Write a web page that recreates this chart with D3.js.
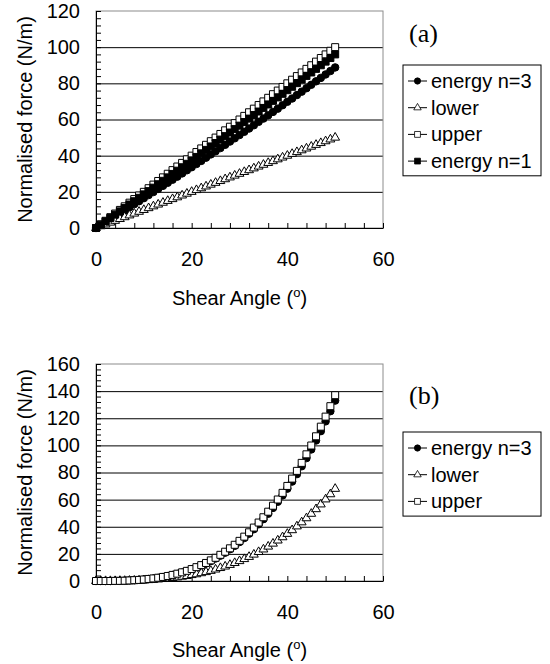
<!DOCTYPE html>
<html>
<head>
<meta charset="utf-8">
<script src="https://cdn.jsdelivr.net/npm/d3@7"></script>
<style>
  body { margin: 0; background: #fff; }
  text { font-family: "Liberation Sans", Arial, sans-serif; fill: #000; }
</style>
</head>
<body>
<script>
// shear angle (degrees), same for every series
var angles = [0,1,2,3,4,5,6,7,8,9,10,11,12,13,14,15,16,17,18,19,20,21,22,23,24,25,
  26,27,28,29,30,31,32,33,34,35,36,37,38,39,40,41,42,43,44,45,46,47,48,49,50];

// panel (a)
var aEnergyN3 = [0,1.6,3.3,4.9,6.5,8.2,9.8,11.5,13.2,14.8,16.5,18.2,19.9,21.6,23.3,25.0,
  26.7,28.4,30.2,31.9,33.6,35.4,37.1,38.9,40.7,42.4,44.2,46.0,47.8,49.6,51.4,53.2,55.0,
  56.8,58.7,60.5,62.3,64.2,66.0,67.9,69.8,71.6,73.5,75.4,77.3,79.2,81.1,83.0,84.9,86.8,88.8];
var aLower = [0,1,2,3,4,5,6,7,8,9,10,11,12,13,14,15,16,17,18,19,20,21,22,23,24,25,
  26,27,28,29,30,31,32,33,34,35,36,37,38,39,40,41,42,43,44,45,46,47,48,49,50];
var aUpper = [0,2,4,6,8,10,12,14,16,18,20,22,24,26,28,30,32,34,36,38,40,42,44,46,48,50,
  52,54,56,58,60,62,64,66,68,70,72,74,76,78,80,82,84,86,88,90,92,94,96,98,100];
var aEnergyN1 = [0,1.8,3.7,5.5,7.4,9.2,11.1,13.0,14.8,16.7,18.6,20.4,22.3,24.2,26.1,28.0,
  29.9,31.7,33.6,35.5,37.4,39.3,41.3,43.2,45.1,47.0,48.9,50.8,52.8,54.7,56.6,58.6,60.5,
  62.5,64.4,66.4,68.3,70.3,72.2,74.2,76.2,78.1,80.1,82.1,84.1,86.0,88.0,90.0,92.0,94.0,96.0];

// panel (b)
var bEnergyN3 = [0,0,0,0,0.1,0.1,0.2,0.4,0.5,0.8,1.1,1.4,1.8,2.3,2.9,3.6,4.4,5.2,6.2,7.3,
  8.5,9.9,11.3,12.9,14.7,16.6,18.7,20.9,23.4,25.9,28.7,31.7,34.9,38.2,41.8,45.6,49.6,53.9,
  58.4,63.1,68.1,73.3,78.8,84.6,90.6,97.0,103.6,110.5,117.7,125.2,133.0];
var bLower = [0,0,0,0,0,0.1,0.1,0.2,0.3,0.4,0.5,0.7,0.9,1.2,1.5,1.8,2.2,2.7,3.2,3.7,
  4.4,5.0,5.8,6.6,7.5,8.5,9.6,10.7,11.9,13.3,14.7,16.2,17.8,19.5,21.4,23.3,25.4,27.6,
  29.9,32.3,34.8,37.5,40.3,43.3,46.3,49.6,53.0,56.5,60.2,64.0,68.0];
var bUpper = [0,0,0,0,0.1,0.1,0.2,0.4,0.6,0.8,1.1,1.5,1.9,2.4,3.0,3.7,4.5,5.4,6.4,7.5,
  8.8,10.2,11.7,13.3,15.2,17.1,19.3,21.6,24.1,26.7,29.6,32.7,35.9,39.4,43.1,47.0,51.1,55.5,
  60.1,65.0,70.1,75.5,81.2,87.1,93.4,99.9,106.7,113.8,121.2,128.9,137.0];

var xTicks = [0, 20, 40, 60];
var aYTicks = [0, 20, 40, 60, 80, 100, 120];
var bYTicks = [0, 20, 40, 60, 80, 100, 120, 140, 160];

var svg = d3.select("body").append("svg")
    .attr("width", 550)
    .attr("height", 664);

var left = 96, right = 383;

function panel(o) {
  var x = d3.scaleLinear().domain([0, 60]).range([left, right]);
  var yMax = o.yTicks[o.yTicks.length - 1];
  var y = d3.scaleLinear().domain([0, yMax]).range([o.bottom, o.top]);
  var g = svg.append("g");

  // gridlines
  g.append("g")
      .attr("transform", "translate(" + left + ",0)")
      .call(d3.axisLeft(y).tickValues(o.yTicks.slice(1, -1)).tickSize(-(right - left)).tickFormat(""))
      .call(function(a) { a.select(".domain").remove(); })
      .selectAll("line").attr("stroke", "#000");

  // plot frame (grey)
  g.append("rect")
      .attr("x", left).attr("y", o.top)
      .attr("width", right - left).attr("height", o.bottom - o.top)
      .attr("fill", "none").attr("stroke", "#8c8c8c");

  // inward ticks every 4 units
  g.append("g")
      .attr("transform", "translate(" + left + ",0)")
      .call(d3.axisLeft(y).tickValues(d3.range(0, yMax + 1, 4)).tickSize(-5).tickSizeOuter(0).tickFormat(""))
      .selectAll("path, line").attr("stroke", "#000");
  g.append("g")
      .attr("transform", "translate(0," + o.bottom + ")")
      .call(d3.axisBottom(x).tickValues(d3.range(0, 61, 4)).tickSize(-5).tickSizeOuter(0).tickFormat(""))
      .selectAll("path, line").attr("stroke", "#000");

  // tick labels
  var yl = g.append("g")
      .attr("transform", "translate(" + left + ",0)")
      .call(d3.axisLeft(y).tickValues(o.yTicks).tickSize(0).tickPadding(16));
  yl.select(".domain").remove();
  yl.selectAll("text").style("font-size", "20px").style("font-family", "Liberation Sans, Arial, sans-serif");

  var xl = g.append("g")
      .attr("transform", "translate(0," + o.bottom + ")")
      .call(d3.axisBottom(x).tickValues(xTicks).tickSize(0).tickPadding(o.xPad));
  xl.select(".domain").remove();
  xl.selectAll("text").style("font-size", "20px").style("font-family", "Liberation Sans, Arial, sans-serif");

  // axis titles
  g.append("text")
      .attr("transform", "translate(25," + ((o.top + o.bottom) / 2) + ") rotate(-90)")
      .attr("text-anchor", "middle")
      .attr("dominant-baseline", "central")
      .style("font-size", "20px")
      .text("Normalised force (N/m)");

  var xt = g.append("text")
      .attr("x", (left + right) / 2)
      .attr("y", o.xTitleY)
      .attr("text-anchor", "middle")
      .style("font-size", "20px");
  xt.append("tspan").text("Shear Angle (");
  xt.append("tspan").attr("dy", -8).style("font-size", "13px").text("o");
  xt.append("tspan").attr("dy", 8).text(")");

  // series
  var line = d3.line()
      .x(function(d) { return x(d[0]); })
      .y(function(d) { return y(d[1]); });

  o.series.forEach(function(s) {
    var pts = angles.map(function(a, i) { return [a, s.values[i]]; });
    g.append("path")
        .datum(pts)
        .attr("d", line)
        .attr("fill", "none")
        .attr("stroke", "#000")
        .attr("stroke-width", 1);
    g.append("g").selectAll("path")
        .data(pts)
      .enter().append("path")
        .attr("transform", function(d) { return "translate(" + x(d[0]) + "," + y(d[1]) + ")"; })
        .attr("d", d3.symbol().type(s.type).size(s.size))
        .attr("fill", s.filled ? "#000" : "#fff")
        .attr("stroke", "#000")
        .attr("stroke-width", 1);
  });

  // panel label
  svg.append("text")
      .attr("x", 409).attr("y", o.tagY)
      .attr("dominant-baseline", "central")
      .style("font-family", "Liberation Serif, Times New Roman, serif")
      .style("font-size", "26px")
      .text(o.tag);

  // legend
  var lg = svg.append("g");
  lg.append("rect")
      .attr("x", 403).attr("y", o.legTop)
      .attr("width", 138).attr("height", o.series.length * 26.7 + 4)
      .attr("fill", "#fff").attr("stroke", "#000");
  o.series.forEach(function(s, i) {
    var cy = o.legTop + 16 + i * 26.7;
    lg.append("line")
        .attr("x1", 408).attr("x2", 427).attr("y1", cy).attr("y2", cy)
        .attr("stroke", "#000");
    lg.append("path")
        .attr("transform", "translate(417.5," + cy + ")")
        .attr("d", d3.symbol().type(s.type).size(s.size * 0.7))
        .attr("fill", s.filled ? "#000" : "#fff")
        .attr("stroke", "#000")
        .attr("stroke-width", 0.8);
    lg.append("text")
        .attr("x", 431).attr("y", cy)
        .attr("dominant-baseline", "central")
        .style("font-size", "20px")
        .text(s.name);
  });
}

panel({
  top: 11, bottom: 228, yTicks: aYTicks, xPad: 24, xTitleY: 305,
  tag: "(a)", tagY: 33, legTop: 65,
  series: [
    {name: "energy n=3", values: aEnergyN3, type: d3.symbolCircle, size: 44, filled: true},
    {name: "lower", values: aLower, type: d3.symbolTriangle, size: 34, filled: false},
    {name: "upper", values: aUpper, type: d3.symbolSquare, size: 49, filled: false},
    {name: "energy n=1", values: aEnergyN1, type: d3.symbolSquare, size: 49, filled: true}
  ]
});

panel({
  top: 364, bottom: 581, yTicks: bYTicks, xPad: 24, xTitleY: 657,
  tag: "(b)", tagY: 395, legTop: 432,
  series: [
    {name: "energy n=3", values: bEnergyN3, type: d3.symbolCircle, size: 44, filled: true},
    {name: "lower", values: bLower, type: d3.symbolTriangle, size: 34, filled: false},
    {name: "upper", values: bUpper, type: d3.symbolSquare, size: 49, filled: false}
  ]
});
</script>
</body>
</html>
